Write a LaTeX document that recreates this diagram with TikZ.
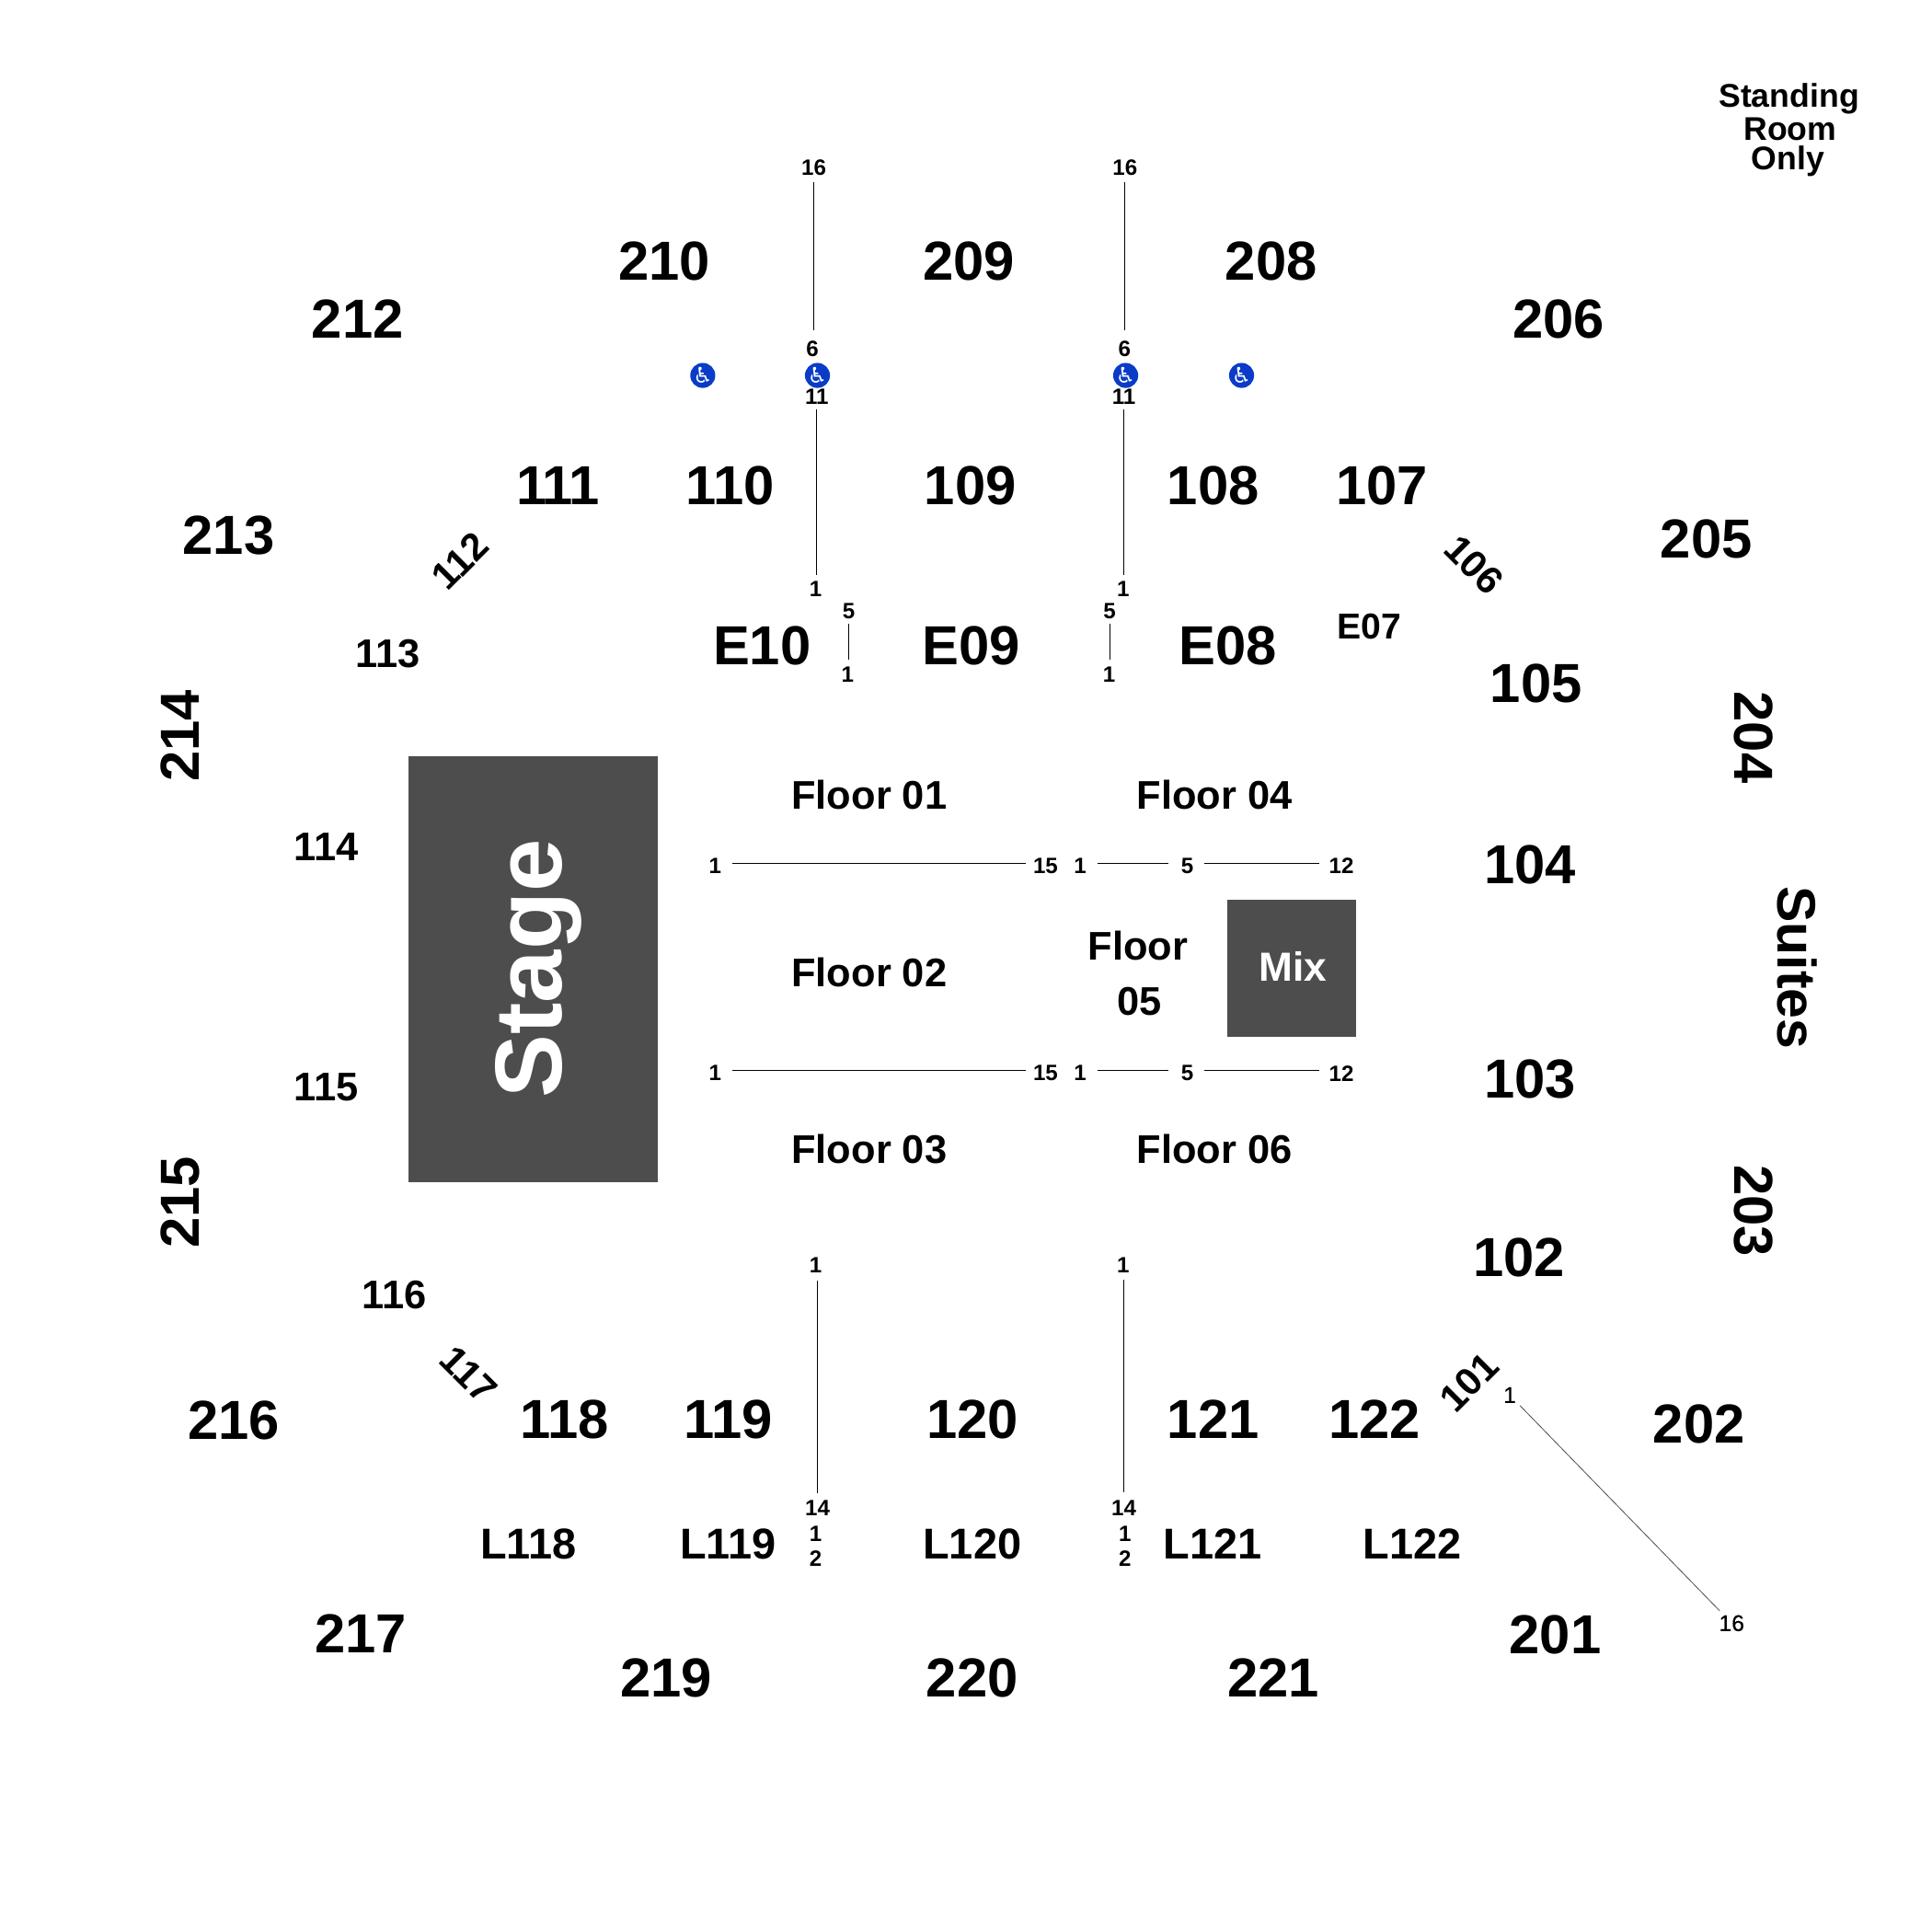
\documentclass[tikz,border=0pt]{standalone}
\usepackage{fontspec}
\setmainfont{Liberation Sans}
\newfontfamily\dejavu{DejaVu Sans}
\newfontfamily\semibd[FakeBold=0.4]{Liberation Sans}
\definecolor{stagegray}{HTML}{4D4D4D}
\definecolor{adablue}{HTML}{0A3CC8}
\tikzset{
  lab/.style={inner sep=0pt, outer sep=0pt, anchor=center, align=center},
  bigtxt/.style={lab, font=\fontsize{22.3}{22.3}\selectfont\bfseries},
  midtxt/.style={lab, font=\fontsize{16.2}{16.2}\selectfont\bfseries},
  tiltxt/.style={lab, font=\fontsize{15.6}{15.6}\selectfont\bfseries},
  rowtxt/.style={lab, yshift=0.25pt, font=\fontsize{17.5}{17.5}\selectfont\bfseries},
  sronly/.style={lab, anchor=base, font=\fontsize{13.3}{13.3}\selectfont\bfseries},
  seatnum/.style={lab, font=\fontsize{9}{9}\selectfont\bfseries},
  seatthin/.style={lab, font=\fontsize{9.2}{9.2}\semibd},
  seatline/.style={line width=0.42pt, black},
  seatdiag/.style={line width=0.3pt, black!70},
  block/.style={fill=stagegray, draw=none, inner sep=0pt, outer sep=0pt, anchor=center},
  adadot/.style={circle, fill=adablue, draw=none, minimum size=9pt, inner sep=0pt,
    text=white, font=\fontsize{8.8}{8.8}\dejavu},
}
\newcommand{\bg}[3]{\node[bigtxt] (s#3) at (#1,#2) {#3};}
\newcommand{\md}[3]{\node[midtxt] (s#3) at (#1,#2) {#3};}
\newcommand{\sn}[4]{\node[seatnum] (#1) at (#2,#3) {#4};}
\newcommand{\floorrun}[4]{\draw[seatline, shorten <=#3*0.5pt, shorten >=#4*0.5pt] ([yshift=1pt]#1.center) -- ([yshift=1pt]#2.center);}
\begin{document}
\begin{tikzpicture}[x=0.5pt,y=-0.5pt]
\useasboundingbox (0,0) rectangle (1567,1567);
% blocks
\node[block, minimum width=101pt, minimum height=173pt] (stage) at (432.5,786) {};
\node[lab, text=white, rotate=90, font=\fontsize{38.5}{38.5}\selectfont\bfseries, text height=28pt, text depth=0pt] (staget) at (427.5,785.5) {Stage};
\node[block, minimum width=52pt, minimum height=55.5pt] (mix) at (1047.5,785.5) {};
\node[lab, text=white, font=\fontsize{16.5}{16.5}\selectfont\bfseries] (mixt) at (1048.5,783.5) {Mix};
% top ring
\bg{290}{259}{212}\bg{539}{212}{210}\bg{786}{212}{209}\bg{1031}{212}{208}\bg{1264}{259}{206}
\bg{185.5}{434}{213}
\node[bigtxt] (s111) at (452.5,394) {1\kern-.075em 1\kern-.075em 1};
\bg{592}{394}{110}\bg{787}{394}{109}\bg{984}{394}{108}\bg{1121}{394}{107}\bg{1384}{437}{205}
\bg{1246}{554}{105}\bg{1241}{701}{104}\bg{1241}{875}{103}\bg{1232}{1020}{102}
\node[bigtxt, rotate=90] (s214) at (146,597) {214};
\node[bigtxt, rotate=90] (s215) at (146,975) {215};
\node[bigtxt, rotate=-90] (s204) at (1422.5,598) {204};
\node[bigtxt, rotate=-90] (s203) at (1422.5,982) {203};
\node[bigtxt, rotate=-90, font=\fontsize{22}{22}\selectfont\bfseries] (suites) at (1458,785) {Suites};
\bg{189.5}{1152}{216}\bg{458}{1151}{118}\bg{590.5}{1151}{119}\bg{789}{1151}{120}\bg{984}{1151}{121}\bg{1115}{1151}{122}\bg{1378}{1155}{202}
\bg{292.5}{1325}{217}\bg{540.5}{1361}{219}\bg{788.5}{1361}{220}\bg{1033}{1361}{221}\bg{1261.5}{1326}{201}
\bg{618}{524}{E10}\bg{788}{524}{E09}\bg{996}{524}{E08}
% smaller
\md{314.5}{530}{113}\md{264.5}{687}{114}\md{264.5}{882}{115}\md{320}{1050}{116}
\node[midtxt, font=\fontsize{14.6}{14.6}\selectfont\bfseries] (sE07) at (1110.5,508) {E07};
\node[tiltxt, rotate=45] (s112) at (373,455) {112};
\node[tiltxt, rotate=-45] (s106) at (1195.5,458) {106};
\node[tiltxt, rotate=-45] (s117) at (380,1115) {117};
\node[tiltxt, rotate=45] (s101) at (1191.5,1121) {101};
\node[midtxt] (f1) at (705,645) {Floor 01};
\node[midtxt] (f4) at (985,645) {Floor 04};
\node[midtxt] (f2) at (705,789) {Floor 02};
\node[midtxt] (f5a) at (923,767) {Floor};
\node[midtxt] (f5b) at (924,812) {05};
\node[midtxt] (f3) at (705,932) {Floor 03};
\node[midtxt] (f6) at (985,932) {Floor 06};
\node[rowtxt] (l118) at (428.5,1253) {L118};
\node[rowtxt] (l119) at (590.5,1253) {L119};
\node[rowtxt] (l120) at (788.5,1253) {L120};
\node[rowtxt] (l121) at (983.5,1253) {L121};
\node[rowtxt] (l122) at (1145.5,1253) {L122};
\node[sronly] (sr1) at (1451,87) {Standing};
\node[sronly] (sr2) at (1452,114) {Room};
\node[sronly] (sr3) at (1450,137.5) {Only};
% accessibility
\node[adadot] (w1) at (570,304.5) {♿};
\node[adadot] (w2) at (663,304.5) {♿};
\node[adadot] (w3) at (913,304.5) {♿};
\node[adadot] (w4) at (1007,304.5) {♿};
% seat numbers
\sn{a16}{660}{136}{16}\sn{a6}{659}{283}{6}
\sn{b16}{912.5}{136}{16}\sn{b6}{912}{283}{6}
\sn{a11}{662.5}{322}{11}\sn{a1}{661.5}{478}{1}
\sn{b11}{911.5}{322}{11}\sn{b1}{911}{478}{1}
\sn{e5}{688.5}{496}{5}\sn{e1}{687.5}{547}{1}
\sn{g5}{900}{496}{5}\sn{g1}{899.5}{547}{1}
\sn{p1}{580}{702.5}{1}\sn{p15}{848}{702.5}{15}\sn{q1}{876}{702.5}{1}\sn{q5}{963}{702.5}{5}\sn{q12}{1088}{702.5}{12}
\sn{r1}{580}{870.5}{1}\sn{r15}{848}{870.5}{15}\sn{t1}{876}{870.5}{1}\sn{t5}{963}{870.5}{5}\sn{t12}{1088}{870.5}{12}
\sn{c1}{661.5}{1026}{1}\sn{c14}{663}{1223}{14}\sn{c1b}{661.5}{1244}{1}\sn{c2}{661.5}{1264}{2}
\sn{d1}{911}{1026}{1}\sn{d14}{911.5}{1223}{14}\sn{d1b}{912.5}{1244}{1}\sn{d2}{912.5}{1264}{2}
\node[seatthin] (x1) at (1224.5,1131.5) {1};
\node[seatthin] (x16) at (1404.5,1316.5) {16};
% seat lines
\draw[seatline, shorten <=6pt, shorten >=7.5pt] (a16.center) -- (a6.center -| a16.center);
\draw[seatline, shorten <=6pt, shorten >=7.5pt] (b16.center) -- (b6.center -| b16.center);
\draw[seatline, shorten <=5pt, shorten >=6pt] (a11.center) -- (a1.center -| a11.center);
\draw[seatline, shorten <=5pt, shorten >=6pt] (b11.center) -- (b1.center -| b11.center);
\draw[seatline, shorten <=5pt, shorten >=6pt] (e5.center) -- (e1.center -| e5.center);
\draw[seatline, shorten <=5pt, shorten >=6pt] (g5.center) -- (g1.center -| g5.center);
\floorrun{p1}{p15}{14}{16}
\floorrun{q1}{q5}{14}{15}
\floorrun{q5}{q12}{14}{18}
\floorrun{r1}{r15}{14}{16}
\floorrun{t1}{t5}{14}{15}
\floorrun{t5}{t12}{14}{18}
\draw[seatline, shorten <=6pt, shorten >=6.5pt] (c14.center -| c14.center) -- (c1.center -| c14.center);
\draw[seatline, shorten <=6.5pt, shorten >=6pt] (d14.center) -- (d1.center -| d14.center);
\draw[seatdiag, shorten <=6pt, shorten >=7pt] (x1.center) -- (x16.center);
\end{tikzpicture}
\end{document}
